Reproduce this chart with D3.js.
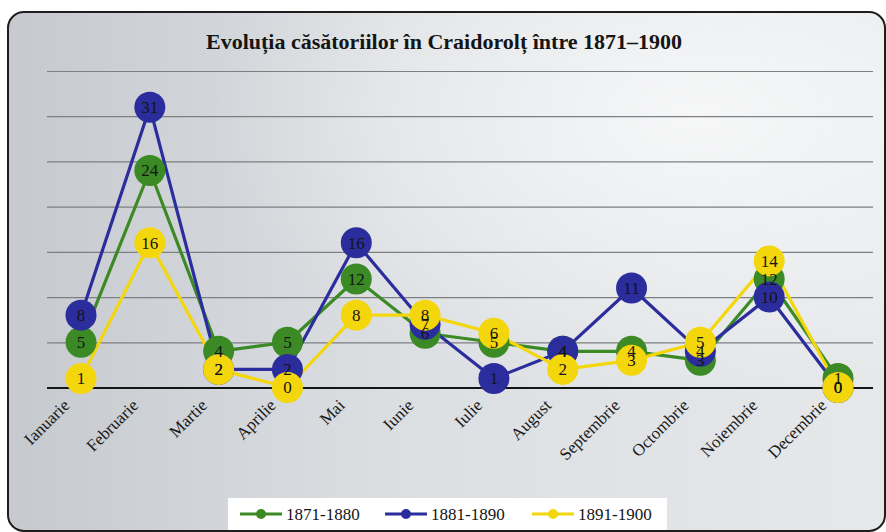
<!DOCTYPE html>
<html>
<head>
<meta charset="utf-8">
<script src="https://cdn.jsdelivr.net/npm/d3@7/dist/d3.min.js"></script>
<style>
  html, body { margin: 0; padding: 0; background: #ffffff; }
  svg { display: block; }
</style>
</head>
<body>
<svg id="chart" width="886" height="532"></svg>
<script>
// Marriages per month, Craidorolț, 1871–1900
const months = ["Ianuarie", "Februarie", "Martie", "Aprilie", "Mai", "Iunie",
                "Iulie", "August", "Septembrie", "Octombrie", "Noiembrie", "Decembrie"];
const series1871 = [5, 24, 4, 5, 12, 6, 5, 4, 4, 3, 12, 1];
const series1881 = [8, 31, 2, 2, 16, 7, 1, 4, 11, 4, 10, 0];
const series1891 = [1, 16, 2, 0, 8, 8, 6, 2, 3, 5, 14, 0];
const seriesNames = ["1871-1880", "1881-1890", "1891-1900"];
const seriesColors = ["#3b8a25", "#2c2d9c", "#f4d60c"];
const yTicks = [0, 5, 10, 15, 20, 25, 30, 35];

const series = [series1871, series1881, series1891].map((values, i) => ({
  name: seriesNames[i], color: seriesColors[i], values
}));

const svg = d3.select("#chart");
const serif = "'Liberation Serif', 'DejaVu Serif', serif";

// background panel with rounded frame
const defs = svg.append("defs");
const bg = defs.append("linearGradient").attr("id", "bg")
  .attr("x1", "0").attr("y1", "0").attr("x2", "1").attr("y2", "0");
bg.append("stop").attr("offset", "0").attr("stop-color", "#c6cacf");
bg.append("stop").attr("offset", "0.45").attr("stop-color", "#dcdfe2");
bg.append("stop").attr("offset", "1").attr("stop-color", "#e6e8ea");
const glow = defs.append("radialGradient").attr("id", "glow")
  .attr("cx", "0.78").attr("cy", "0.2").attr("r", "0.55");
glow.append("stop").attr("offset", "0").attr("stop-color", "#ffffff").attr("stop-opacity", 0.7);
glow.append("stop").attr("offset", "1").attr("stop-color", "#ffffff").attr("stop-opacity", 0);

svg.append("rect").attr("x", 8).attr("y", 12).attr("width", 877).attr("height", 519)
  .attr("rx", 16).attr("fill", "url(#bg)");
svg.append("rect").attr("x", 8).attr("y", 12).attr("width", 877).attr("height", 519)
  .attr("rx", 16).attr("fill", "url(#glow)")
  .attr("stroke", "#1e1e1e").attr("stroke-width", 2);

// title
svg.append("text")
  .attr("x", 444).attr("y", 49)
  .attr("text-anchor", "middle")
  .attr("font-family", serif).attr("font-weight", "bold").attr("font-size", 22)
  .attr("fill", "#151515")
  .text("Evoluția căsătoriilor în Craidorolț între 1871–1900");

// scales
const x = d3.scalePoint().domain(months).range([81, 838]);
const y = d3.scaleLinear().domain([0, 35]).range([387.5, 71]);
const plotLeft = 47, plotRight = 873;

// horizontal gridlines
const yAxis = d3.axisLeft(y).tickValues(yTicks).tickSize(-(plotRight - plotLeft)).tickFormat("");
const yg = svg.append("g").attr("transform", `translate(${plotLeft},0)`).call(yAxis);
yg.select(".domain").remove();
yg.selectAll(".tick line")
  .attr("stroke", d => d === 0 ? "#151515" : "#7d7f82")
  .attr("stroke-width", d => d === 0 ? 2 : 1.2);

// category axis labels, rotated
const xAxis = d3.axisBottom(x).tickSize(0).tickPadding(0);
const xg = svg.append("g").attr("transform", "translate(0,387.5)").call(xAxis);
xg.select(".domain").remove();
xg.selectAll(".tick text")
  .attr("font-family", serif).attr("font-size", 17).attr("fill", "#1a1a1a")
  .attr("text-anchor", "end")
  .attr("dy", null).attr("y", null)
  .attr("transform", "translate(-11,19) rotate(-45)");

// lines
const line = d3.line().x((d, i) => x(months[i])).y(d => y(d));
svg.append("g").selectAll("path").data(series).join("path")
  .attr("d", d => line(d.values))
  .attr("fill", "none")
  .attr("stroke", d => d.color)
  .attr("stroke-width", 3.2)
  .attr("stroke-linejoin", "round");

// markers
const pts = series.flatMap(s => s.values.map((v, i) => ({ month: months[i], value: v, color: s.color })));
svg.append("g").selectAll("circle").data(pts).join("circle")
  .attr("cx", d => x(d.month)).attr("cy", d => y(d.value))
  .attr("r", 15.5).attr("fill", d => d.color);

// value labels on top of all markers
svg.append("g").selectAll("text").data(pts).join("text")
  .attr("x", d => x(d.month)).attr("y", d => y(d.value))
  .attr("dy", "0.35em")
  .attr("text-anchor", "middle")
  .attr("font-family", serif).attr("font-size", 17)
  .attr("fill", "#141414")
  .text(d => d.value);

// legend
const legend = svg.append("g");
legend.append("rect").attr("x", 228).attr("y", 498).attr("width", 439).attr("height", 32)
  .attr("fill", "#ffffff");
const legendX = [240, 385, 532];
const items = legend.selectAll("g.item").data(series).join("g")
  .attr("class", "item")
  .attr("transform", (d, i) => `translate(${legendX[i]},514)`);
items.append("line").attr("x1", 0).attr("x2", 42).attr("y1", 0).attr("y2", 0)
  .attr("stroke", d => d.color).attr("stroke-width", 3);
items.append("circle").attr("cx", 21).attr("cy", 0).attr("r", 5).attr("fill", d => d.color);
items.append("text").attr("x", 46).attr("y", 0).attr("dy", "0.35em")
  .attr("font-family", serif).attr("font-size", 17).attr("fill", "#141414")
  .text(d => d.name);
</script>
</body>
</html>
